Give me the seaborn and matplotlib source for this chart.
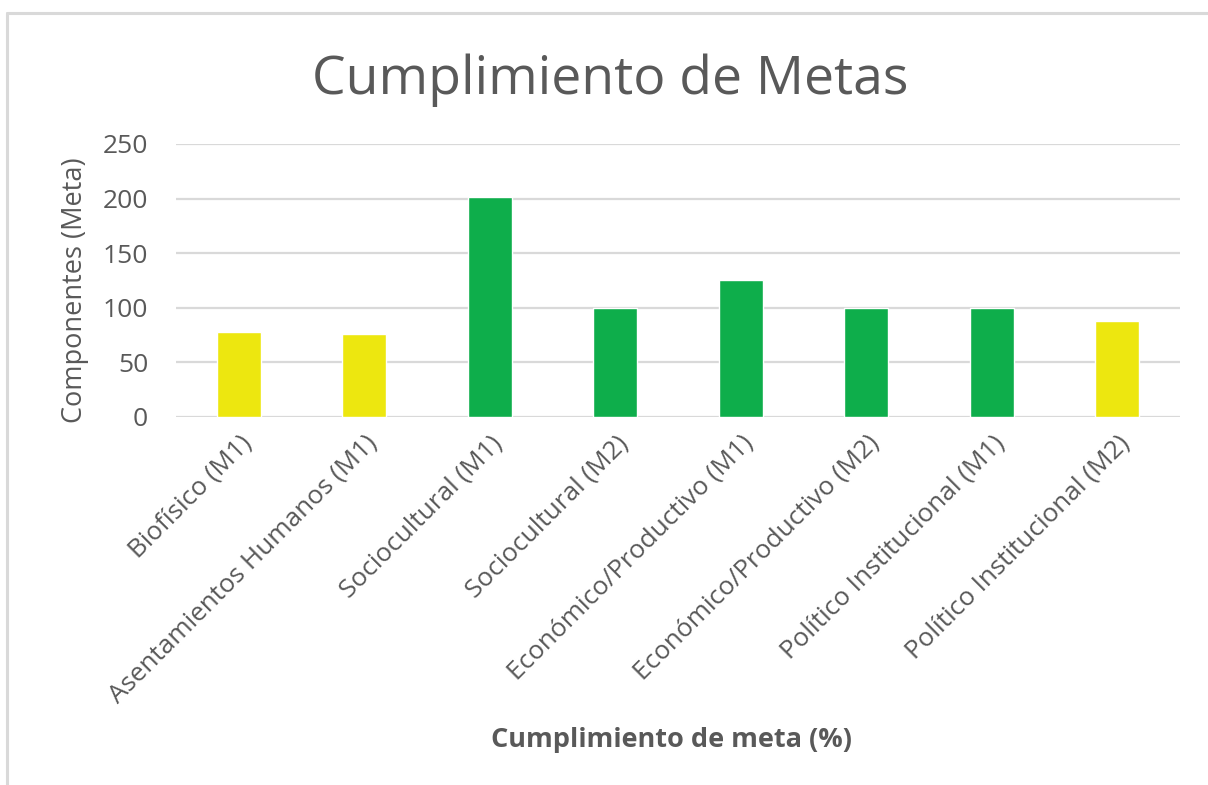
from matplotlib import pyplot as plt
from matplotlib.lines import Line2D
import pandas as pd
import seaborn as sns

categorias = [
    "Biofísico (M1)",
    "Asentamientos Humanos (M1)",
    "Sociocultural (M1)",
    "Sociocultural (M2)",
    "Económico/Productivo (M1)",
    "Económico/Productivo (M2)",
    "Político Institucional (M1)",
    "Político Institucional (M2)",
]
valores = [78, 76, 201, 100, 125, 100, 100, 88]
colores = ["#EDE70F", "#EDE70F", "#0EAE4B", "#0EAE4B", "#0EAE4B", "#0EAE4B", "#0EAE4B", "#EDE70F"]
yticks = [0, 50, 100, 150, 200, 250]

df = pd.DataFrame({"Componente": categorias, "Valor": valores})

sns.set_style("white")
plt.rcParams["font.family"] = ["Open Sans", "DejaVu Sans"]
gris = "#595959"

fig = plt.figure(figsize=(12.08, 7.85), dpi=100)
ax = fig.add_axes([0.1457, 0.4692, 0.8311, 0.3474])

sns.barplot(data=df, x="Componente", y="Valor", hue="Componente",
            palette=colores, saturation=1, width=0.35, legend=False, ax=ax, zorder=3)

ax.set_ylim(0, 250)
ax.set_xlim(-0.5, len(categorias) - 0.5)
ax.set_yticks(yticks)
ax.yaxis.grid(True, color="#D9D9D9", linewidth=1.6, zorder=0)
ax.set_axisbelow(True)
for s in ax.spines.values():
    s.set_visible(False)
ax.tick_params(axis="both", length=0, colors=gris)
ax.tick_params(axis="y", pad=20, labelsize=19)
ax.set_xticks(range(len(categorias)))
ax.set_xticklabels(categorias, rotation=45, ha="right", rotation_mode="anchor",
                   fontsize=18.8, color=gris)
ax.tick_params(axis="x", pad=10)
ax.set_xlabel("")
ax.set_ylabel("")

fig.text(0.505, 0.898, "Cumplimiento de Metas", ha="center", va="center",
         fontsize=38.5, color=gris)
fig.text(0.062, 0.63, "Componentes (Meta)", rotation=90, ha="center", va="center",
         fontsize=19.5, color=gris)
fig.text(0.556, 0.057, "Cumplimiento de meta (%)", ha="center", va="center",
         fontsize=19.5, fontweight="bold", color=gris)

# marco del gráfico
fig.add_artist(Line2D([0.006, 1.0], [0.983, 0.983], color="#D9D9D9", linewidth=2.2,
                      transform=fig.transFigure))
fig.add_artist(Line2D([0.006, 0.006], [0.0, 0.983], color="#D9D9D9", linewidth=2.2,
                      transform=fig.transFigure))

fig.savefig("out.png", dpi=100, facecolor="white")
